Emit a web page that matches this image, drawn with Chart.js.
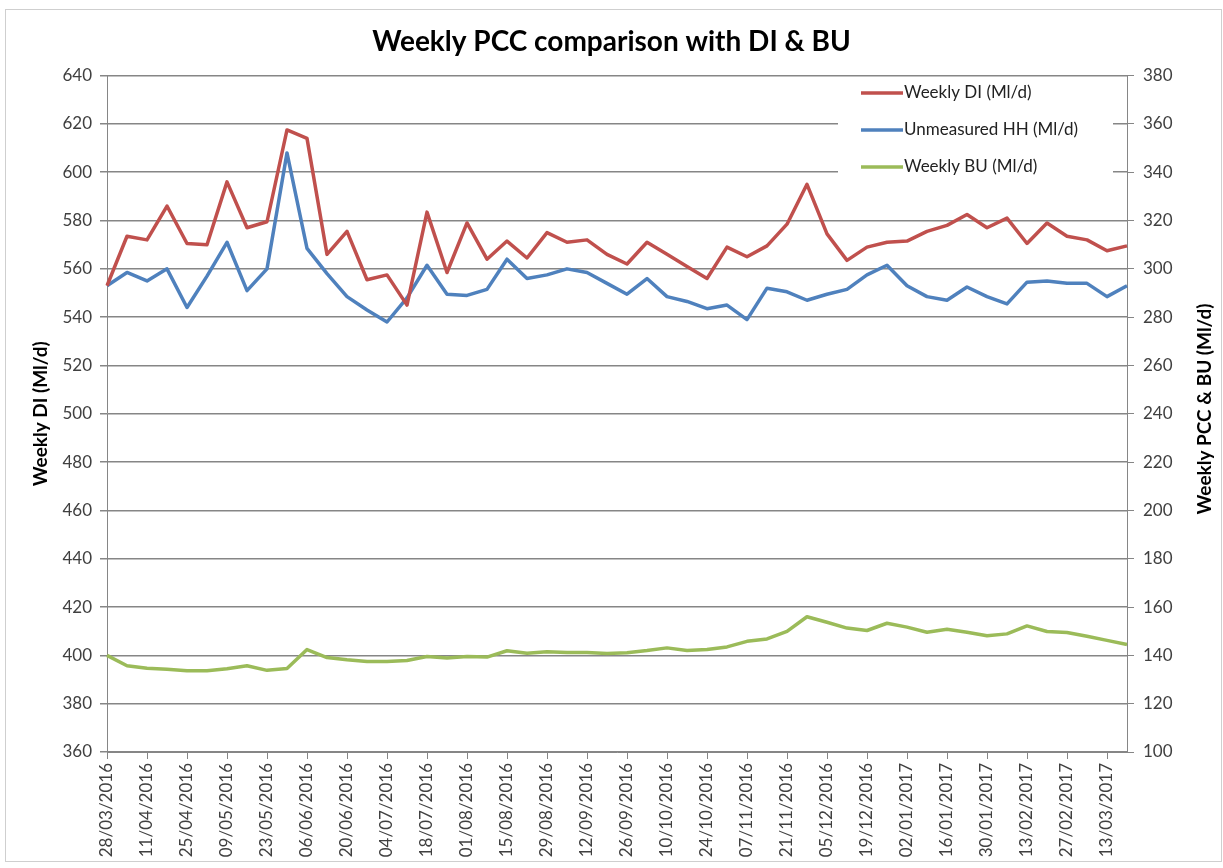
<!DOCTYPE html>
<html>
<head>
<meta charset="utf-8">
<title>Weekly PCC comparison with DI & BU</title>
<script src="https://cdn.jsdelivr.net/npm/chart.js@4.4.1/dist/chart.umd.min.js"></script>
<style>
    body { margin: 0; background: #fff; }
    #contenedor { width: 1223px; height: 868px; }
</style>
</head>
<body>
<div id="contenedor">
    <canvas id="myChart" width="1223" height="868"></canvas>
</div>
<script>
//Configuracion general de Chart.js
Chart.defaults.font.family = 'Lato, "Open Sans", sans-serif';
Chart.defaults.font.size = 17;
Chart.defaults.color = '#404040';

//---------------------------------DATOS---------------------------------
const semanas = [
    '28/03/2016', '04/04/2016', '11/04/2016', '18/04/2016', '25/04/2016', '02/05/2016',
    '09/05/2016', '16/05/2016', '23/05/2016', '30/05/2016', '06/06/2016', '13/06/2016',
    '20/06/2016', '27/06/2016', '04/07/2016', '11/07/2016', '18/07/2016', '25/07/2016',
    '01/08/2016', '08/08/2016', '15/08/2016', '22/08/2016', '29/08/2016', '05/09/2016',
    '12/09/2016', '19/09/2016', '26/09/2016', '03/10/2016', '10/10/2016', '17/10/2016',
    '24/10/2016', '31/10/2016', '07/11/2016', '14/11/2016', '21/11/2016', '28/11/2016',
    '05/12/2016', '12/12/2016', '19/12/2016', '26/12/2016', '02/01/2017', '09/01/2017',
    '16/01/2017', '23/01/2017', '30/01/2017', '06/02/2017', '13/02/2017', '20/02/2017',
    '27/02/2017', '06/03/2017', '13/03/2017', '20/03/2017'
];

const weeklyDI = [
    553, 573.5, 572, 586, 570.5, 570, 596, 577, 579.5, 617.5, 614, 566,
    575.5, 555.5, 557.5, 545, 583.5, 558.5, 579, 564, 571.5, 564.5, 575, 571,
    572, 566, 562, 571, 566, 561, 556, 569, 565, 569.5, 578.5, 595,
    574.5, 563.5, 569, 571, 571.5, 575.5, 578, 582.5, 577, 581, 570.5, 579,
    573.5, 572, 567.5, 569.5
];

const unmeasuredHH = [
    553, 558.5, 555, 560, 544, 557, 571, 551, 560, 608, 568.5, 558,
    548.5, 543, 538, 548, 561.5, 549.5, 549, 551.5, 564, 556, 557.5, 560,
    558.5, 554, 549.5, 556, 548.5, 546.5, 543.5, 545, 539, 552, 550.5, 547,
    549.5, 551.5, 557.5, 561.5, 553, 548.5, 547, 552.5, 548.5, 545.5, 554.5, 555,
    554, 554, 548.5, 553
];

const weeklyBU = [
    140, 135.7, 134.7, 134.3, 133.6, 133.6, 134.5, 135.7, 133.8, 134.6, 142.4, 139.1,
    138.2, 137.5, 137.5, 137.9, 139.5, 138.9, 139.5, 139.3, 141.9, 140.9, 141.5, 141.2,
    141.2, 140.8, 141.1, 142, 143.1, 142, 142.4, 143.5, 145.8, 146.8, 149.9, 156,
    153.7, 151.3, 150.3, 153.3, 151.7, 149.6, 150.8, 149.6, 148.1, 148.9, 152.2, 149.9,
    149.5, 147.9, 146.2, 144.5
];

const nombresSeries = ['Weekly DI (Ml/d)', 'Unmeasured HH (Ml/d)', 'Weekly BU (Ml/d)'];
const coloresSeries = ['#C0504D', '#4F81BD', '#9BBB59'];

const GRIS = '#868686';

//---------------------------------PLUGINS---------------------------------
//Marco exterior del grafico
const marcoPlugin = {
    id: 'marco',
    beforeDraw(chart) {
        let ctx = chart.ctx;
        ctx.save();
        ctx.fillStyle = '#fff';
        ctx.fillRect(0, 0, chart.width, chart.height);
        ctx.strokeStyle = '#cfcfcf';
        ctx.lineWidth = 1;
        ctx.strokeRect(5.5, 9.5, chart.width - 7, chart.height - 16);
        ctx.restore();
    }
};

//Titulo del eje derecho (leido de abajo a arriba, como en Excel) y leyenda interior
const extrasPlugin = {
    id: 'extras',
    afterDraw(chart) {
        let ctx = chart.ctx;
        ctx.save();

        //titulo eje derecho
        ctx.translate(1205, 409);
        ctx.rotate(-Math.PI / 2);
        ctx.fillStyle = '#000';
        ctx.font = 'bold 19px Lato, "Open Sans", sans-serif';
        ctx.textAlign = 'center';
        ctx.textBaseline = 'middle';
        ctx.fillText('Weekly PCC & BU (Ml/d)', 0, 0);
        ctx.restore();

        //leyenda
        ctx.save();
        ctx.fillStyle = '#fff';
        ctx.fillRect(838, 79, 275, 104);
        ctx.font = '17px Lato, "Open Sans", sans-serif';
        ctx.textBaseline = 'middle';
        for (let i = 0; i < nombresSeries.length; i++) {
            let y = 93 + i * 37;
            ctx.strokeStyle = coloresSeries[i];
            ctx.lineWidth = 3.5;
            ctx.beginPath();
            ctx.moveTo(861, y);
            ctx.lineTo(903, y);
            ctx.stroke();
            ctx.fillStyle = '#222';
            ctx.fillText(nombresSeries[i], 904, y);
        }
        ctx.restore();
    }
};

//---------------------------------GRAFICA---------------------------------
let data = {
    labels: semanas,
    datasets: [{
        label: nombresSeries[0],
        data: weeklyDI,
        borderColor: coloresSeries[0],
        backgroundColor: coloresSeries[0],
        yAxisID: 'y'
    }, {
        label: nombresSeries[1],
        data: unmeasuredHH,
        borderColor: coloresSeries[1],
        backgroundColor: coloresSeries[1],
        yAxisID: 'y'
    }, {
        label: nombresSeries[2],
        data: weeklyBU,
        borderColor: coloresSeries[2],
        backgroundColor: coloresSeries[2],
        yAxisID: 'y1'
    }]
};

let config = {
    type: 'line',
    data: data,
    options: {
        responsive: false,
        animation: false,
        devicePixelRatio: 1,
        layout: {
            padding: 0
        },
        elements: {
            point: { radius: 0 },
            line: { borderWidth: 3.5, tension: 0, borderJoinStyle: 'round' }
        },
        plugins: {
            legend: { display: false },
            tooltip: { enabled: false },
            title: {
                display: true,
                text: 'Weekly PCC comparison with DI & BU',
                color: '#000',
                font: { size: 28, weight: 'bold' },
                padding: { top: 25, bottom: 17 }
            }
        },
        scales: {
            x: {
                offset: false,
                grid: {
                    drawOnChartArea: false,
                    color: GRIS,
                    tickLength: 7
                },
                border: { color: GRIS },
                ticks: {
                    autoSkip: false,
                    maxRotation: 90,
                    minRotation: 90,
                    padding: 4,
                    callback: function (valor, indice) {
                        return indice % 2 === 0 ? semanas[indice] : null;
                    }
                },
                afterFit: function (eje) { eje.height = 116; }
            },
            y: {
                position: 'left',
                min: 360,
                max: 640,
                grid: {
                    color: GRIS,
                    lineWidth: 1.5,
                    tickLength: 7
                },
                border: { color: GRIS },
                ticks: { stepSize: 20, padding: 8 },
                title: {
                    display: true,
                    text: 'Weekly DI (Ml/d)',
                    color: '#000',
                    font: { size: 19, weight: 'bold' },
                    padding: { top: 29, bottom: 0 }
                },
                afterFit: function (eje) { eje.width = 107; }
            },
            y1: {
                position: 'right',
                min: 100,
                max: 380,
                grid: {
                    drawOnChartArea: false,
                    color: GRIS,
                    tickLength: 7
                },
                border: { color: GRIS },
                ticks: { stepSize: 20, padding: 9 },
                afterFit: function (eje) { eje.width = 96; }
            }
        }
    },
    plugins: [marcoPlugin, extrasPlugin]
};

const myChart = new Chart(document.getElementById('myChart'), config);
</script>
</body>
</html>
